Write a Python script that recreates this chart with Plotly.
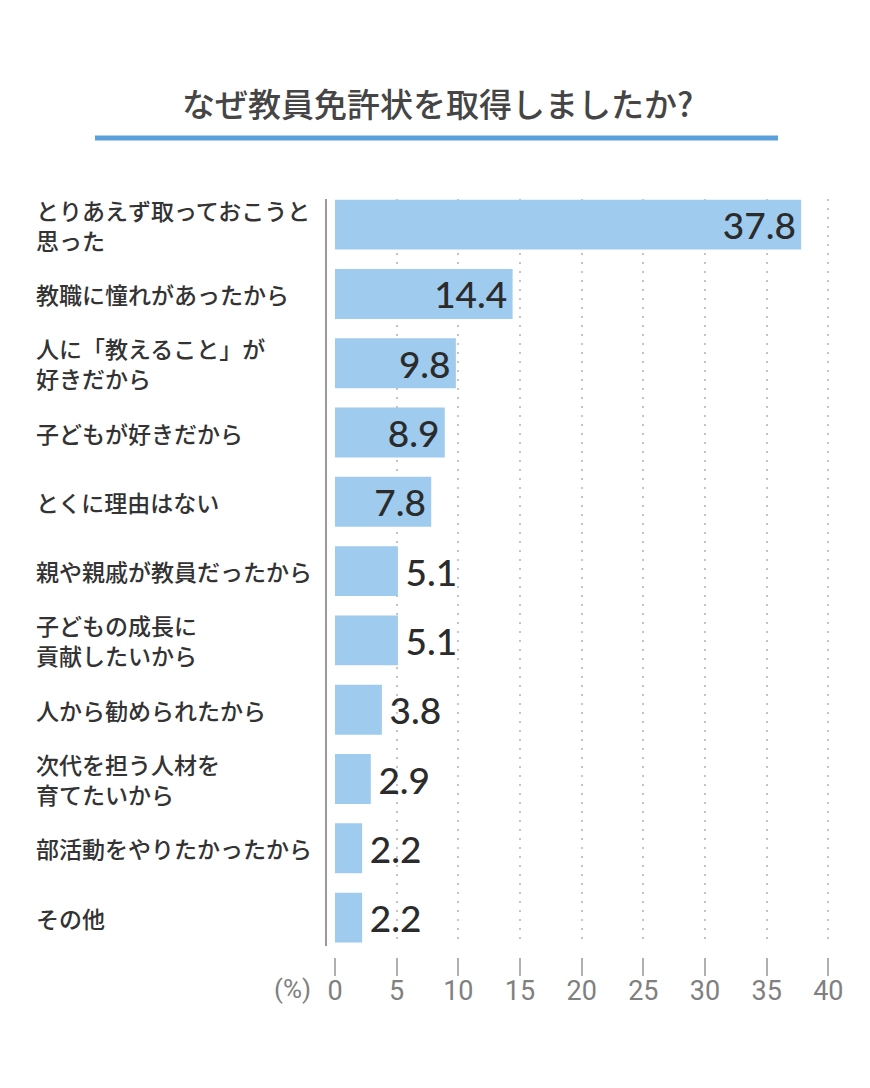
import plotly.graph_objects as go

# 回答項目（上から順）と割合(%)
reasons = [
    "とりあえず取っておこうと<br>思った",
    "教職に憧れがあったから",
    "人に「教えること」が<br>好きだから",
    "子どもが好きだから",
    "とくに理由はない",
    "親や親戚が教員だったから",
    "子どもの成長に<br>貢献したいから",
    "人から勧められたから",
    "次代を担う人材を<br>育てたいから",
    "部活動をやりたかったから",
    "その他",
]
percent = [37.8, 14.4, 9.8, 8.9, 7.8, 5.1, 5.1, 3.8, 2.9, 2.2, 2.2]
x_ticks = [0, 5, 10, 15, 20, 25, 30, 35, 40]

# ページ本体の余白(8px)を差し引いた図の大きさ
OFF = 8
W, H = 870 - 2 * OFF, 1088 - 2 * OFF
def px(x):
    return (x - OFF) / W
def py(y):
    return 1 - (y - OFF) / H

# 大きい値はバーの内側、小さい値は外側
positions = ["inside" if v >= 7 else "outside" for v in percent]
labels = [("{:.1f}\u200a".format(v) if p == "inside" else "\u2009{:.1f}".format(v))
          for v, p in zip(percent, positions)]

fig = go.Figure()
fig.add_trace(go.Bar(
    x=percent, y=reasons, orientation="h",
    marker=dict(color="#9ecbee", line=dict(width=0)),
    text=labels, textposition=positions, insidetextanchor="end",
    textfont=dict(family="Lato, Noto Sans", size=37, color="#2b2b2b", weight=500),
    constraintext="none", cliponaxis=False, hoverinfo="skip",
))
# 目盛り線だけを描くための透明トレース
fig.add_trace(go.Scatter(x=[0], y=[reasons[0]], xaxis="x2", mode="markers",
                         marker=dict(opacity=0), hoverinfo="skip", showlegend=False))

x_dom = [px(327), px(832)]
x_rng = [-0.65, 40.3]

fig.update_layout(
    width=W, height=H,
    margin=dict(l=0, r=0, t=0, b=0, autoexpand=False),
    paper_bgcolor="white", plot_bgcolor="white",
    showlegend=False, bargap=0.28,
    xaxis=dict(domain=x_dom, range=x_rng, tickvals=x_ticks[1:], showticklabels=False,
               ticks="", showgrid=True, gridcolor="#c4c4c4", gridwidth=2,
               griddash="2px,7px", zeroline=False, showline=False, fixedrange=True),
    xaxis2=dict(overlaying="x", anchor="free", position=py(957), side="bottom",
                range=x_rng, tickvals=x_ticks, ticks="outside", ticklen=18,
                tickwidth=1.5, tickcolor="#b0b0b0", showgrid=False, zeroline=False,
                showline=False, ticklabelstandoff=-8,
                tickfont=dict(family="Roboto", size=27, color="#808080")),
    yaxis=dict(domain=[py(946), py(199)], range=[10.41, -0.37], showticklabels=False,
               ticks="", showgrid=False, zeroline=False, showline=True,
               linecolor="#9a9a9a", linewidth=1.5, fixedrange=True),
)

# 項目ラベル（左揃え）
for r in reasons:
    fig.add_annotation(x=px(34), y=r, xref="paper", yref="y", text=r, showarrow=False,
                       xanchor="left", yanchor="middle", align="left",
                       font=dict(family="Noto Sans CJK JP", size=23, color="#333333", weight=500))

fig.add_annotation(x=px(292), y=py(989), xref="paper", yref="paper", text="(%)",
                   showarrow=False, xanchor="center", yanchor="middle",
                   font=dict(family="Roboto", size=26, color="#808080"))

# タイトルと下線
fig.add_annotation(x=px(437), y=py(103), xref="paper", yref="paper",
                   text="なぜ教員免許状を取得しましたか?", showarrow=False,
                   xanchor="center", yanchor="middle",
                   font=dict(family="Noto Sans CJK JP", size=33, color="#454545", weight=500))
fig.add_shape(type="line", xref="paper", yref="paper", x0=px(95), x1=px(778),
              y0=py(138), y1=py(138), line=dict(color="#5b9fdc", width=5))

fig.write_html("out.html")
